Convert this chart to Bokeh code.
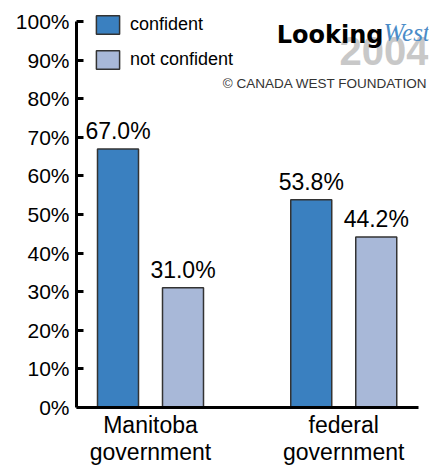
from bokeh.plotting import figure
from bokeh.models import (ColumnDataSource, Range1d, LabelSet, Label,
                          Legend, LegendItem, FixedTicker, PrintfTickFormatter)
from bokeh.core.properties import value
from bokeh.transform import dodge
from bokeh.embed import file_html
from bokeh.resources import INLINE

categories = ["Manitoba\ngovernment", "federal\ngovernment"]
confident = [67.0, 53.8]
not_confident = [31.0, 44.2]
y_ticks = [0, 10, 20, 30, 40, 50, 60, 70, 80, 90, 100]
series = ["confident", "not confident"]

FONT = "Liberation Sans"
C1 = "#3A80C0"
C2 = "#A8B8D8"

idx = list(range(len(categories)))
src = ColumnDataSource(dict(
    x=idx,
    conf=confident,
    notc=not_confident,
    conf_lbl=[f"{v:.1f}%" for v in confident],
    notc_lbl=[f"{v:.1f}%" for v in not_confident],
))

PX = 193.25  # px per category
PY = 3.86    # px per percent
X0 = -74 / PX
X1 = X0 + 352 / PX
p = figure(width=434, height=466, output_backend="svg", toolbar_location=None,
           x_range=Range1d(X0, X1), y_range=Range1d(-59 / PY, 100 + 15 / PY),
           min_border_left=76, min_border_right=6, min_border_top=6, min_border_bottom=0)
p.outline_line_color = None
p.xgrid.grid_line_color = None
p.ygrid.grid_line_color = None
p.background_fill_color = "white"

OFF = 32.5 / PX
W = 41 / PX
r1 = p.vbar(x=dodge("x", -OFF), top="conf", width=W, source=src,
            fill_color=C1, line_color="#333333", line_width=1.5)
r2 = p.vbar(x=dodge("x", OFF), top="notc", width=W, source=src,
            fill_color=C2, line_color="#333333", line_width=1.5)

for off, col in [(-OFF, "conf"), (OFF, "notc")]:
    p.add_layout(LabelSet(x=dodge("x", off), y=col, text=col + "_lbl",
                          source=src, y_offset=5, text_align="center", text_baseline="bottom",
                          text_font=value(FONT), text_font_size=value("23px"),
                          text_color=value("black")))

# axes
p.yaxis.bounds = (0, 100)
p.yaxis.ticker = FixedTicker(ticks=y_ticks)
p.yaxis.formatter = PrintfTickFormatter(format="%d%%")
p.yaxis.axis_line_width = 3
p.yaxis.major_tick_line_width = 3
p.yaxis.major_tick_in = 7
p.yaxis.major_tick_out = 0
p.yaxis.minor_tick_line_color = None
p.yaxis.major_label_standoff = 7
p.yaxis.major_label_text_font = FONT
p.yaxis.major_label_text_font_size = "21px"
p.yaxis.major_label_text_color = "black"

p.xaxis.fixed_location = 0
p.xaxis.bounds = (X0, X0 + 342 / PX)
p.xaxis.ticker = FixedTicker(ticks=idx)
p.xaxis.major_label_overrides = {i: c for i, c in zip(idx, categories)}
p.xaxis.axis_line_width = 3
p.xaxis.major_tick_line_color = None
p.xaxis.minor_tick_line_color = None
p.xaxis.major_label_standoff = -2
p.xaxis.major_label_text_font = FONT
p.xaxis.major_label_text_font_size = "23px"
p.xaxis.major_label_text_color = "black"
p.xaxis.major_label_text_line_height = 1.05

B = 59  # frame extends below the zero line
legend = Legend(items=[LegendItem(label=series[0], renderers=[r1]),
                       LegendItem(label=series[1], renderers=[r2])],
                location=(17, 336 + B), glyph_width=29, glyph_height=23, spacing=12,
                label_standoff=8, padding=0, margin=0, border_line_color=None,
                background_fill_alpha=0, label_text_font=FONT, label_text_font_size="18px",
                label_text_color="black")
p.add_layout(legend)

# logo
p.add_layout(Label(x=352, y=357 + B, x_units="screen", y_units="screen", text="2004",
                   text_align="right", text_baseline="alphabetic", text_font=FONT,
                   text_font_style="bold", text_font_size="40px", text_color="#C8C8C8"))
p.add_layout(Label(x=307, y=373 + B, x_units="screen", y_units="screen", text="Looking",
                   text_align="right", text_baseline="alphabetic", text_font="DejaVu Sans",
                   text_font_style="bold", text_font_size="24px", text_color="black"))
p.add_layout(Label(x=307, y=375 + B, x_units="screen", y_units="screen", text="West",
                   text_align="left", text_baseline="alphabetic", text_font="Liberation Serif",
                   text_font_style="italic", text_font_size="25px", text_color="#4A8CC8"))
p.add_layout(Label(x=351, y=324 + B, x_units="screen", y_units="screen",
                   text="\u00a9 CANADA WEST FOUNDATION",
                   text_align="right", text_baseline="alphabetic", text_font=FONT,
                   text_font_size="13.5px", text_color="#333333"))

open("out.html", "w").write(file_html(p, INLINE))
